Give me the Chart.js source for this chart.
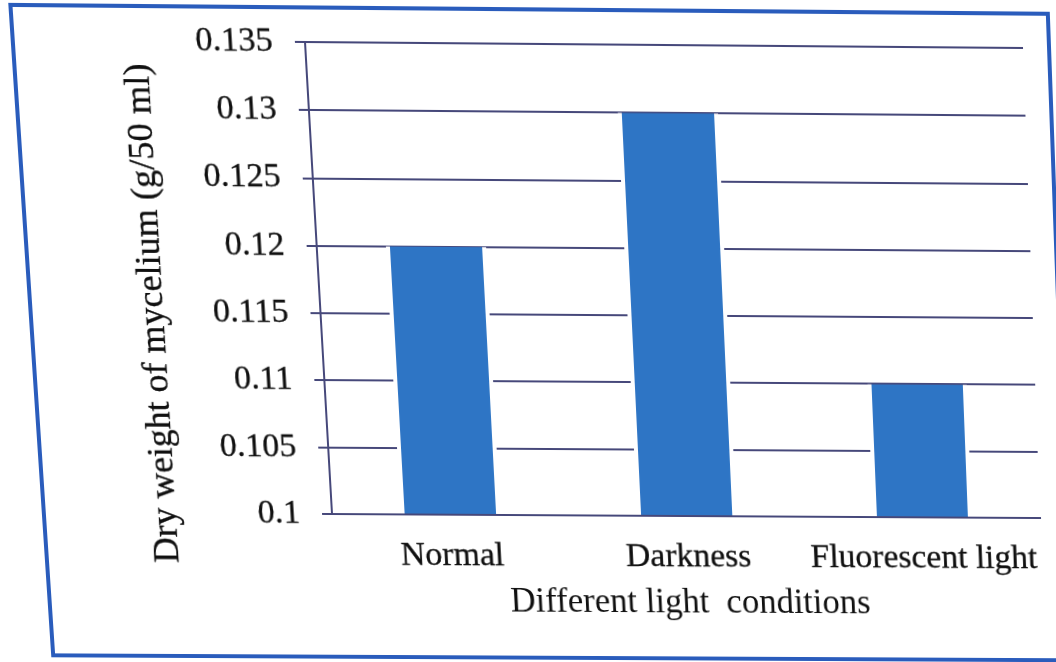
<!DOCTYPE html>
<html>
<head>
<meta charset="utf-8">
<title>Dry weight of mycelium under different light conditions</title>
<script src="https://cdn.jsdelivr.net/npm/chart.js@4"></script>
<style>
  html, body { margin: 0; padding: 0; background: #ffffff; overflow: hidden; width: 1056px; height: 662px; }
  #sheet { position: absolute; left: 0; top: 0; width: 1100px; height: 700px; transform-origin: 0 0; }
  #chart { display: block; }
</style>
</head>
<body>
<div id="sheet"><canvas id="chart" width="1100" height="700"></canvas></div>
<script>
// Data
const categories = ['Normal', 'Darkness', 'Fluorescent light'];
const dryWeight = [0.12, 0.13, 0.11];
const yTickLabels = ['0.1', '0.105', '0.11', '0.115', '0.12', '0.125', '0.13', '0.135'];
const yTitle = 'Dry weight of mycelium (g/50 ml)';
const xTitle = 'Different light  conditions';

const SERIF = "'Liberation Serif', 'Times New Roman', serif";
const INK = '#101010';
const RULE = '#46487a';
const INK_STROKE = 0.3;

// Page frame around the figure plus the rotated value-axis caption
const framePlugin = {
  id: 'pageFrame',
  beforeDraw(chart) {
    const { ctx, chartArea: ca } = chart;
    ctx.save();
    ctx.fillStyle = '#ffffff';
    ctx.fillRect(0, 0, chart.width, chart.height);
    ctx.strokeStyle = '#2a5cbc';
    ctx.lineWidth = 4;
    ctx.strokeRect(ca.left - 289, ca.top - 34, (ca.right + 26) - (ca.left - 289), (ca.bottom + 145) - (ca.top - 34));
    ctx.restore();
  },
  afterDraw(chart) {
    const { ctx, chartArea: ca } = chart;
    ctx.save();
    ctx.translate(ca.left - 166, ca.top + 272);
    ctx.rotate(-Math.PI / 2);
    ctx.font = '36px ' + SERIF;
    ctx.fillStyle = INK;
    ctx.strokeStyle = INK;
    ctx.lineWidth = INK_STROKE;
    ctx.textAlign = 'center';
    ctx.textBaseline = 'middle';
    ctx.fillText(yTitle, 0, 0);
    ctx.strokeText(yTitle, 0, 0);
    ctx.restore();
  }
};

const chart = new Chart(document.getElementById('chart'), {
  type: 'bar',
  data: {
    labels: categories,
    datasets: [{
      data: dryWeight,
      backgroundColor: '#2e75c5',
      borderColor: '#ffffff',
      borderWidth: { left: 4, right: 4, top: 0, bottom: 0 },
      borderSkipped: false,
      barPercentage: 0.42,
      categoryPercentage: 1.0
    }]
  },
  options: {
    responsive: false,
    animation: false,
    events: [],
    layout: { padding: { left: 0, top: 45, right: 68, bottom: 74 } },
    plugins: { legend: { display: false }, tooltip: { enabled: false } },
    scales: {
      x: {
        grid: { display: false, drawTicks: false },
        border: { display: true, color: RULE, width: 2, z: 1 },
        ticks: {
          color: INK, font: { family: SERIF, size: 34 }, padding: 22, maxRotation: 0,
          textStrokeColor: INK, textStrokeWidth: INK_STROKE
        },
        title: { display: true, text: xTitle, color: INK, font: { family: SERIF, size: 35 }, padding: { top: 7, bottom: 0 } },
        afterFit(scale) { scale.height = 110; }
      },
      y: {
        min: 0.1,
        max: 0.135,
        grid: { color: RULE, lineWidth: 2, drawTicks: true, tickLength: 10, tickColor: RULE },
        border: { display: true, color: RULE, width: 2 },
        ticks: {
          stepSize: 0.005,
          color: INK,
          font: { family: SERIF, size: 34 },
          padding: 22,
          textStrokeColor: INK,
          textStrokeWidth: INK_STROKE,
          callback: (v, i) => yTickLabels[i]
        },
        afterFit(scale) { scale.width = 318; }
      }
    }
  },
  plugins: [framePlugin]
});

// The printed page was photographed at a slight angle: warp the flat
// chart with a projective transform that carries its plot area onto
// the tilted quadrilateral.
function solveHomography(src, dst) {
  const A = [], b = [];
  for (let i = 0; i < 4; i++) {
    const [x, y] = src[i], [X, Y] = dst[i];
    A.push([x, y, 1, 0, 0, 0, -x * X, -y * X]); b.push(X);
    A.push([0, 0, 0, x, y, 1, -x * Y, -y * Y]); b.push(Y);
  }
  const n = 8;
  for (let c = 0; c < n; c++) {
    let p = c;
    for (let r = c + 1; r < n; r++) if (Math.abs(A[r][c]) > Math.abs(A[p][c])) p = r;
    [A[c], A[p]] = [A[p], A[c]]; [b[c], b[p]] = [b[p], b[c]];
    for (let r = 0; r < n; r++) {
      if (r === c) continue;
      const f = A[r][c] / A[c][c];
      for (let k = c; k < n; k++) A[r][k] -= f * A[c][k];
      b[r] -= f * b[c];
    }
  }
  return b.map((v, i) => v / A[i][i]);
}

const ca = chart.chartArea;
const srcQuad = [[ca.left, ca.top], [ca.right, ca.top], [ca.right, ca.bottom], [ca.left, ca.bottom]];
const dstQuad = [[305, 42], [1023, 48], [1040, 518], [332, 514]];
const h = solveHomography(srcQuad, dstQuad);
document.getElementById('sheet').style.transform =
  `matrix3d(${h[0]},${h[3]},0,${h[6]},${h[1]},${h[4]},0,${h[7]},0,0,1,0,${h[2]},${h[5]},0,1)`;
</script>
</body>
</html>
